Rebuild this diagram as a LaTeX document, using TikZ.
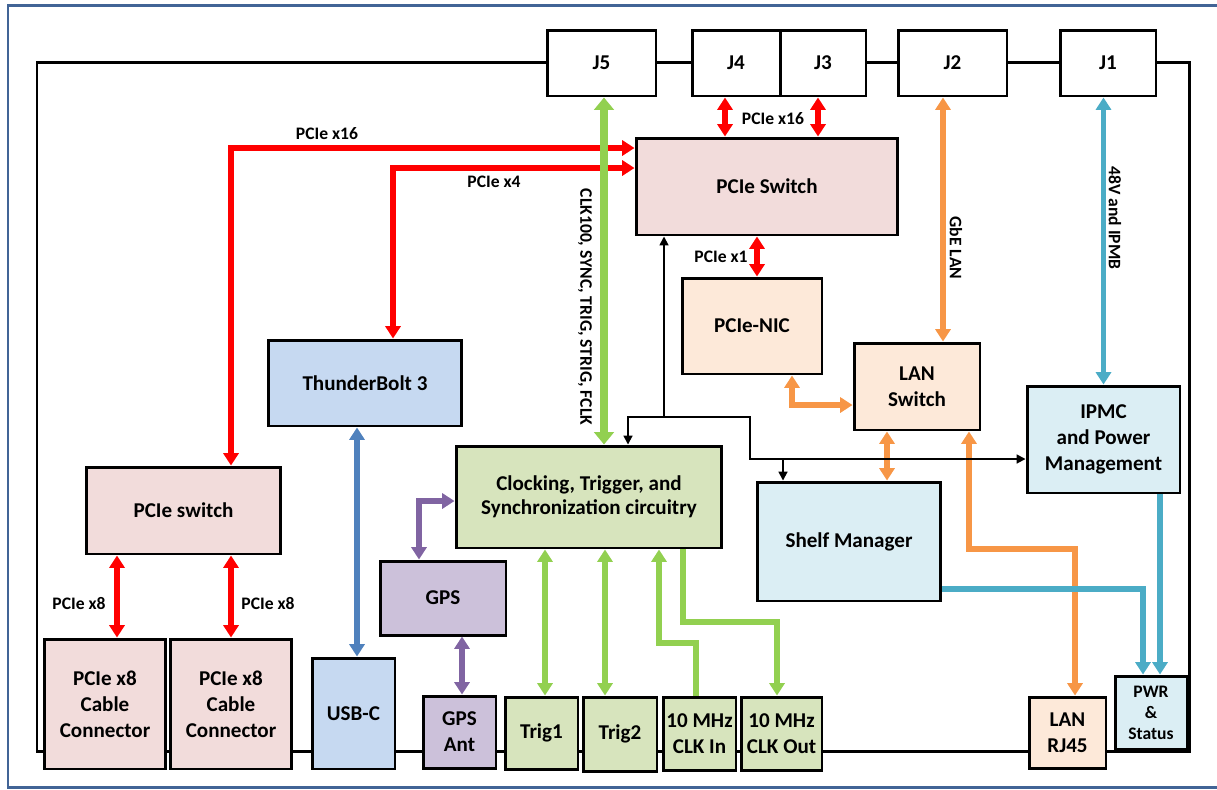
\documentclass[tikz,border=0pt]{standalone}
\usepackage{fontspec}
\setmainfont{Carlito}
\usepackage{tikz}
\usetikzlibrary{arrows.meta}

\definecolor{framecol}{RGB}{65, 100, 150}
\definecolor{pinkfill}{HTML}{F2DCDB}
\definecolor{bluefill}{HTML}{C6D9F1}
\definecolor{peachfill}{HTML}{FDE9D9}
\definecolor{greenfill}{HTML}{D7E4BD}
\definecolor{purplefill}{HTML}{CCC1DA}
\definecolor{tealfill}{HTML}{DBEEF4}
\definecolor{greenline}{HTML}{92D050}
\definecolor{orangeline}{HTML}{F79646}
\definecolor{tealline}{HTML}{4BACC6}
\definecolor{blueline}{HTML}{4F81BD}
\definecolor{purpleline}{HTML}{8064A2}

\newcommand{\boxfont}{\fontsize{12}{14.7}\selectfont\bfseries}
\newcommand{\lblfont}{\fontsize{10}{11.5}\selectfont\bfseries}

\begin{document}
\begin{tikzpicture}[x = 0.02cm, y = -0.02cm,
    box/.style = {draw, fill = white, line width = 1.7pt, inner sep = 0pt, align = center, font = \boxfont},
    sz/.style 2 args = {minimum width = #1cm, minimum height = #2cm},
    lbl/.style = {font = \lblfont, inner sep = 1pt},
    bigtip/.style = {>={Triangle[length = 7pt, width = 8.5pt]}},
    pcie/.style = {draw = red, line width = 3pt, bigtip, <->},
    lan/.style = {draw = orangeline, line width = 3pt, bigtip, <->},
    pwrline/.style = {draw = tealline, line width = 3pt, bigtip},
    usb/.style = {draw = blueline, line width = 3pt, bigtip, <->},
    gpsl/.style = {draw = purpleline, line width = 3pt, bigtip, <->},
    trig/.style = {draw = greenline, line width = 3pt, bigtip},
    clkbus/.style = {draw = greenline, line width = 4pt, >={Triangle[length = 7pt, width = 11pt]}, <->},
    ctl/.style = {draw = black, line width = 1pt, >={Triangle[length = 5pt, width = 5pt]}}]
  \useasboundingbox (0, 0) rectangle (1217, 789);
  \draw [framecol, line width = 1.7pt] (1217, 5) -- (8, 5) -- (8, 787) -- (1217, 787);
  % board outline
  \draw [line width = 1.7pt] (37, 62) rectangle (1189, 751);

  % connectors on the top edge
  \node [box, sz = {2.18}{1.32}] (j5) at (601.5, 63) {J5};
  \node [box, sz = {1.76}{1.32}] (j4) at (736, 63) {J4};
  \node [box, sz = {1.72}{1.32}] (j3) at (823, 63) {J3};
  \node [box, sz = {2.18}{1.32}] (j2) at (952.5, 63) {J2};
  \node [box, sz = {1.92}{1.32}] (j1) at (1108, 63) {J1};

  % blocks
  \node [box, fill = pinkfill, sz = {5.24}{1.94}] (pcsw) at (767, 186.5) {PCIe Switch};
  \node [box, fill = peachfill, sz = {2.8}{1.92}] (nic) at (752, 326) {PCIe-NIC};
  \node [box, fill = peachfill, sz = {2.52}{1.74}] (lsw) at (917, 386.5) {LAN\\Switch};
  \node [box, fill = tealfill, sz = {3.06}{2.14}] (ipmc) at (1103.5, 439.5) {IPMC\\and Power\\Management};
  \node [box, fill = tealfill, sz = {3.68}{2.38}] (shelf) at (849, 541.5) {Shelf Manager};
  \node [box, fill = greenfill, sz = {5.32}{2.04}, font = \fontsize{12}{13.6}\selectfont\bfseries] (clk) at (589, 497) {Clocking, Trigger, and\\Synchronization circuitry};
  \node [box, fill = bluefill, sz = {3.88}{1.72}] (tb) at (365, 383) {ThunderBolt 3};
  \node [box, fill = pinkfill, sz = {3.9}{1.74}] (psw) at (183.5, 510.5) {PCIe switch};
  \node [box, fill = purplefill, sz = {2.52}{1.48}] (gps) at (443, 598) {GPS};

  % connectors on the bottom edge
  \node [box, fill = pinkfill, sz = {2.44}{2.6}] (cab1) at (105, 704) {PCIe x8\\Cable\\Connector};
  \node [box, fill = pinkfill, sz = {2.44}{2.6}] (cab2) at (231, 704) {PCIe x8\\Cable\\Connector};
  \node [box, fill = bluefill, sz = {1.66}{2.22}] (usbc) at (353.5, 713.5) {USB-C};
  \node [box, fill = purplefill, sz = {1.46}{1.44}] (gant) at (459.5, 732) {GPS\\Ant};
  \node [box, fill = greenfill, sz = {1.46}{1.44}] (trig1) at (541.5, 733) {Trig1};
  \node [box, fill = greenfill, sz = {1.48}{1.48}] (trig2) at (620, 734) {Trig2};
  \node [box, fill = greenfill, sz = {1.46}{1.46}] (cin) at (699.5, 733.5) {10 MHz\\CLK In};
  \node [box, fill = greenfill, sz = {1.62}{1.46}] (cout) at (781.5, 733.5) {10 MHz\\CLK Out};
  \node [box, fill = peachfill, sz = {1.54}{1.42}] (rj45) at (1067.5, 732.5) {LAN\\RJ45};
  \node [box, fill = tealfill, sz = {1.44}{1.46}, font = \fontsize{10}{12}\selectfont\bfseries] (pwr) at (1151, 712.5) {PWR\\\&\\Status};

  % routing points
  \coordinate (x16) at (231, 148);
  \coordinate (x4) at (393, 168);
  \coordinate (j4x) at (725, 117);
  \coordinate (j3x) at (818, 117);
  \coordinate (x1) at (757, 257);
  \coordinate (x8a) at (117, 600);
  \coordinate (x8b) at (231, 600);
  \coordinate (j5x) at (604, 300);
  \coordinate (gbe) at (943, 250);
  \coordinate (nicb) at (792, 405);
  \coordinate (shlan) at (887, 456);
  \coordinate (rja) at (969, 549);
  \coordinate (rjb) at (1075, 549);
  \coordinate (smp) at (1143, 589);
  \coordinate (ipp) at (1160, 600);
  \coordinate (tbx) at (357, 540);
  \coordinate (gpsa) at (419, 501);
  \coordinate (gpsb) at (462, 665);
  \coordinate (t1) at (545, 620);
  \coordinate (t2) at (605, 620);
  \coordinate (cina) at (696, 643);
  \coordinate (cinb) at (659, 643);
  \coordinate (couta) at (683, 622);
  \coordinate (coutb) at (777, 622);
  \coordinate (bus) at (664, 417);
  \coordinate (clkb) at (628, 417);
  \coordinate (busR) at (750, 459);
  \coordinate (shm) at (783, 459);

  % PCIe links
  \draw [pcie] (psw.north -| x16) |- (pcsw.west |- x16);
  \draw [pcie] (tb.north -| x4) |- (pcsw.west |- x4);
  \draw [pcie] (j4.south -| j4x) -- (pcsw.north -| j4x);
  \draw [pcie] (j3.south -| j3x) -- (pcsw.north -| j3x);
  \draw [pcie] (pcsw.south -| x1) -- (nic.north -| x1);
  \draw [pcie] (psw.south -| x8a) -- (cab1.north -| x8a);
  \draw [pcie] (psw.south -| x8b) -- (cab2.north -| x8b);

  % clock and trigger
  \draw [clkbus] (j5.south -| j5x) -- (clk.north -| j5x);
  \draw [trig, <->] (clk.south -| t1) -- (trig1.north -| t1);
  \draw [trig, <->] (clk.south -| t2) -- (trig2.north -| t2);
  \draw [trig, ->] (cin.north -| cina) |- (cinb) -- (clk.south -| cinb);
  \draw [trig, ->] (clk.south -| couta) |- (coutb) -- (cout.north -| coutb);

  % LAN
  \draw [lan] (j2.south -| gbe) -- (lsw.north -| gbe);
  \draw [lan] (nic.south -| nicb) |- (lsw.west |- nicb);
  \draw [lan] (lsw.south -| shlan) -- (shelf.north -| shlan);
  \draw [lan] (lsw.south -| rja) |- (rjb) -- (rj45.north -| rjb);

  % power and management
  \draw [pwrline, <->] (j1.south -| ipmc.north) -- (ipmc.north);
  \draw [pwrline, ->] (shelf.east |- smp) -| (pwr.north -| smp);
  \draw [pwrline, ->] (ipmc.south -| ipp) -- (pwr.north -| ipp);
  \draw [usb] (tb.south -| tbx) -- (usbc.north -| tbx);
  \draw [gpsl] (clk.west |- gpsa) -| (gps.north -| gpsa);
  \draw [gpsl] (gps.south -| gpsb) -- (gant.north -| gpsb);

  % control lines
  \draw [ctl, ->] (bus) -- (pcsw.south -| bus);
  \draw [ctl, ->] (bus) -| (clk.north -| clkb);
  \draw [ctl, ->] (bus) -| (busR) -- (ipmc.west |- busR);
  \draw [ctl, ->] (shm) -- (shelf.north -| shm);

  % labels
  \node [lbl] (l16a) at (327, 134) {PCIe x16};
  \node [lbl] (l4) at (494, 182) {PCIe x4};
  \node [lbl] (l16b) at (773, 119) {PCIe x16};
  \node [lbl] (l1) at (721, 257) {PCIe x1};
  \node [lbl] (l8a) at (79, 603) {PCIe x8};
  \node [lbl] (l8b) at (268, 603) {PCIe x8};
  \node [lbl, rotate = -90] (lclk) at (585, 307) {CLK100, SYNC, TRIG, STRIG, FCLK};
  \node [lbl, rotate = -90] (lgbe) at (956, 248) {GbE LAN};
  \node [lbl, rotate = -90] (lipmb) at (1115, 218) {48V and IPMB};
\end{tikzpicture}
\end{document}
